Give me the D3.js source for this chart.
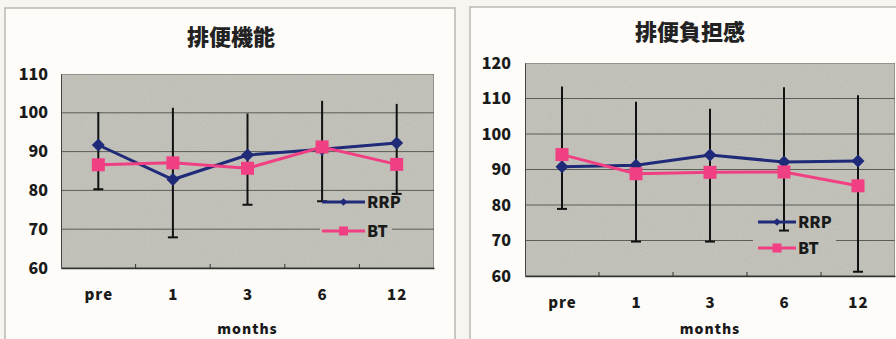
<!DOCTYPE html>
<html>
<head>
<meta charset="utf-8">
<script src="https://cdn.jsdelivr.net/npm/d3@7"></script>
<style>
  body { margin: 0; background: #f6f5ef; }
  svg text { font-family: "Noto Sans CJK JP", "DejaVu Sans", sans-serif; font-weight: 900; fill: #1a1a1a; }
</style>
</head>
<body>
<div id="chart"></div>
<script>
// categories and values
var months = ["pre", "1", "3", "6", "12"];

var funcRRP = [91.7, 82.8, 89.1, 90.6, 92.2];
var funcBT = [86.6, 87.1, 85.7, 91.2, 86.7];
var funcErrTop = [100.2, 101.3, 99.8, 103.1, 102.3];
var funcErrBottom = [80.3, 67.9, 76.3, 77.2, 79.1];
var funcTicks = [60, 70, 80, 90, 100, 110];

var burdenRRP = [90.8, 91.2, 94.1, 92.1, 92.4];
var burdenBT = [94.2, 88.8, 89.2, 89.3, 85.4];
var burdenErrTop = [113.4, 109.1, 107.1, 113.2, 110.9];
var burdenErrBottom = [78.9, 69.7, 69.7, 72.8, 61.2];
var burdenTicks = [60, 70, 80, 90, 100, 110, 120];

var colRRP = "#1f2a78";
var colBT = "#f03f82";
var plotBg = "#c6c6be";

var svg = d3.select("#chart").append("svg")
    .attr("width", 896)
    .attr("height", 339);

// grainy paper texture for the plot area
var defs = svg.append("defs");
var filt = defs.append("filter").attr("id", "grain")
    .attr("x", 0).attr("y", 0).attr("width", 1).attr("height", 1);
filt.append("feTurbulence").attr("type", "fractalNoise")
    .attr("baseFrequency", 0.7).attr("numOctaves", 2).attr("seed", 4).attr("result", "n");
filt.append("feColorMatrix").attr("in", "n").attr("type", "matrix")
    .attr("values", "0 0 0 0 0  0 0 0 0 0  0 0 0 0 0  0 0 0 0.12 0").attr("result", "a");
filt.append("feComposite").attr("in", "a").attr("in2", "SourceGraphic").attr("operator", "in").attr("result", "b");
filt.append("feMerge").selectAll("feMergeNode").data(["SourceGraphic", "b"]).enter()
    .append("feMergeNode").attr("in", function(d) { return d; });

function drawChart(opt) {
    var g = svg.append("g");

    // panel
    g.append("rect")
        .attr("x", opt.panel[0]).attr("y", opt.panel[1])
        .attr("width", opt.panel[2]).attr("height", opt.panel[3])
        .style("fill", "#fdfcf8")
        .style("stroke", "#b9b9b2")
        .style("stroke-width", 1.5);

    var x = d3.scalePoint()
        .domain(months)
        .range([opt.left, opt.right])
        .padding(0.5);

    var y = d3.scaleLinear()
        .domain(d3.extent(opt.ticks))
        .range([opt.bottom, opt.top]);

    // plot background
    g.append("rect")
        .attr("x", opt.left).attr("y", opt.top)
        .attr("width", opt.right - opt.left).attr("height", opt.bottom - opt.top)
        .style("fill", plotBg)
        .style("stroke", "#6a6a66")
        .style("stroke-width", 1)
        .attr("filter", "url(#grain)");

    // gridlines
    g.selectAll(".grid")
        .data(opt.ticks.slice(1, -1))
        .enter().append("line")
        .attr("class", "grid")
        .attr("x1", opt.left).attr("x2", opt.right)
        .attr("y1", function(d) { return y(d); })
        .attr("y2", function(d) { return y(d); })
        .style("stroke", "#5c5c58")
        .style("stroke-width", 1);

    // bottom axis
    var xAxis = d3.axisBottom(x).tickSize(0).tickPadding(21);
    var ax = g.append("g")
        .attr("transform", "translate(0," + opt.bottom + ")")
        .call(xAxis);
    ax.select(".domain").style("stroke", "#333").style("stroke-width", 1.5);
    ax.selectAll("text")
        .style("font-size", "15px")
        .style("letter-spacing", "1px")
        .style("fill", "#1a1a1a");

    // small inner tick marks between categories
    var step = x.step();
    g.selectAll(".xtick")
        .data(months.slice(1))
        .enter().append("line")
        .attr("x1", function(d) { return x(d) - step / 2; })
        .attr("x2", function(d) { return x(d) - step / 2; })
        .attr("y1", opt.bottom).attr("y2", opt.bottom - 4)
        .style("stroke", "#333");

    // left axis labels
    var yAxis = d3.axisLeft(y).tickValues(opt.ticks).tickSize(0).tickPadding(opt.left - opt.labelX);
    var ay = g.append("g")
        .attr("transform", "translate(" + opt.left + ",0)")
        .call(yAxis);
    ay.select(".domain").style("stroke", "#444").style("stroke-width", 1);
    ay.selectAll("text")
        .style("font-size", "16px")
        .style("fill", "#1a1a1a");

    // title
    g.append("text")
        .attr("x", opt.titleX).attr("y", opt.titleY)
        .attr("text-anchor", "middle")
        .style("font-size", "22px")
        .style("fill", "#222")
        .text(opt.title);

    g.append("text")
        .attr("x", (opt.left + opt.right) / 2).attr("y", 334)
        .attr("text-anchor", "middle")
        .style("font-size", "14px")
        .style("letter-spacing", "1px")
        .text("months");

    // legend box sits under the series, like the original
    var lg = g.append("g").attr("transform", "translate(" + opt.legend[0] + "," + opt.legend[1] + ")");
    lg.append("rect")
        .attr("x", 0).attr("y", 0).attr("width", opt.legend[2]).attr("height", 50)
        .style("fill", plotBg)
        .attr("filter", "url(#grain)");

    // error bars
    var bars = g.selectAll(".err")
        .data(months)
        .enter().append("g");
    bars.append("line")
        .attr("x1", function(d) { return x(d); })
        .attr("x2", function(d) { return x(d); })
        .attr("y1", function(d, i) { return y(opt.errTop[i]); })
        .attr("y2", function(d, i) { return y(opt.errBottom[i]); })
        .style("stroke", "#111")
        .style("stroke-width", 2);
    bars.append("line")
        .attr("x1", function(d) { return x(d) - 5; })
        .attr("x2", function(d) { return x(d) + 5; })
        .attr("y1", function(d, i) { return y(opt.errBottom[i]); })
        .attr("y2", function(d, i) { return y(opt.errBottom[i]); })
        .style("stroke", "#111")
        .style("stroke-width", 2);

    var line = d3.line()
        .x(function(d, i) { return x(months[i]); })
        .y(function(d) { return y(d); });

    g.append("path").datum(opt.rrp)
        .attr("d", line)
        .style("fill", "none").style("stroke", colRRP).style("stroke-width", 3);
    g.append("path").datum(opt.bt)
        .attr("d", line)
        .style("fill", "none").style("stroke", colBT).style("stroke-width", 3);

    var diamond = d3.symbol().type(d3.symbolSquare).size(84);
    g.selectAll(".rrp")
        .data(opt.rrp)
        .enter().append("path")
        .attr("d", diamond)
        .attr("transform", function(d, i) { return "translate(" + x(months[i]) + "," + y(d) + ") rotate(45)"; })
        .style("fill", colRRP);

    g.selectAll(".bt")
        .data(opt.bt)
        .enter().append("rect")
        .attr("x", function(d, i) { return x(months[i]) - 6.5; })
        .attr("y", function(d) { return y(d) - 6.5; })
        .attr("width", 13).attr("height", 13)
        .style("fill", colBT);

    // legend entries
    var lg2 = g.append("g").attr("transform", "translate(" + opt.legend[0] + "," + opt.legend[1] + ")");
    var items = [{name: "RRP", col: colRRP, dy: opt.legendRows[0]}, {name: "BT", col: colBT, dy: opt.legendRows[1]}];
    items.forEach(function(it) {
        lg2.append("line")
            .attr("x1", opt.legendLine[0]).attr("x2", opt.legendLine[1])
            .attr("y1", it.dy).attr("y2", it.dy)
            .style("stroke", it.col).style("stroke-width", 3);
        var mid = (opt.legendLine[0] + opt.legendLine[1]) / 2;
        if (it.name === "RRP") {
            lg2.append("path")
                .attr("d", d3.symbol().type(d3.symbolSquare).size(30))
                .attr("transform", "translate(" + mid + "," + it.dy + ") rotate(45)")
                .style("fill", it.col);
        } else {
            lg2.append("rect")
                .attr("x", mid - 4.5).attr("y", it.dy - 4.5).attr("width", 9).attr("height", 9)
                .style("fill", it.col);
        }
        lg2.append("text")
            .attr("x", opt.legendLine[1] + 2).attr("y", it.dy + 6)
            .style("font-size", "16px")
            .text(it.name);
    });
}

drawChart({
    title: "排便機能",
    panel: [5, 8, 450, 340],
    left: 61, right: 434, top: 74, bottom: 268,
    labelX: 48, titleX: 231, titleY: 45,
    ticks: funcTicks,
    rrp: funcRRP, bt: funcBT,
    errTop: funcErrTop, errBottom: funcErrBottom,
    legend: [320, 192, 72], legendRows: [10, 39], legendLine: [2, 45]
});

drawChart({
    title: "排便負担感",
    panel: [470, 7, 440, 340],
    left: 525, right: 895, top: 63, bottom: 276,
    labelX: 511, titleX: 690, titleY: 40,
    ticks: burdenTicks,
    rrp: burdenRRP, bt: burdenBT,
    errTop: burdenErrTop, errBottom: burdenErrBottom,
    legend: [753, 208, 83], legendRows: [14, 40], legendLine: [5, 43]
});
</script>
</body>
</html>
